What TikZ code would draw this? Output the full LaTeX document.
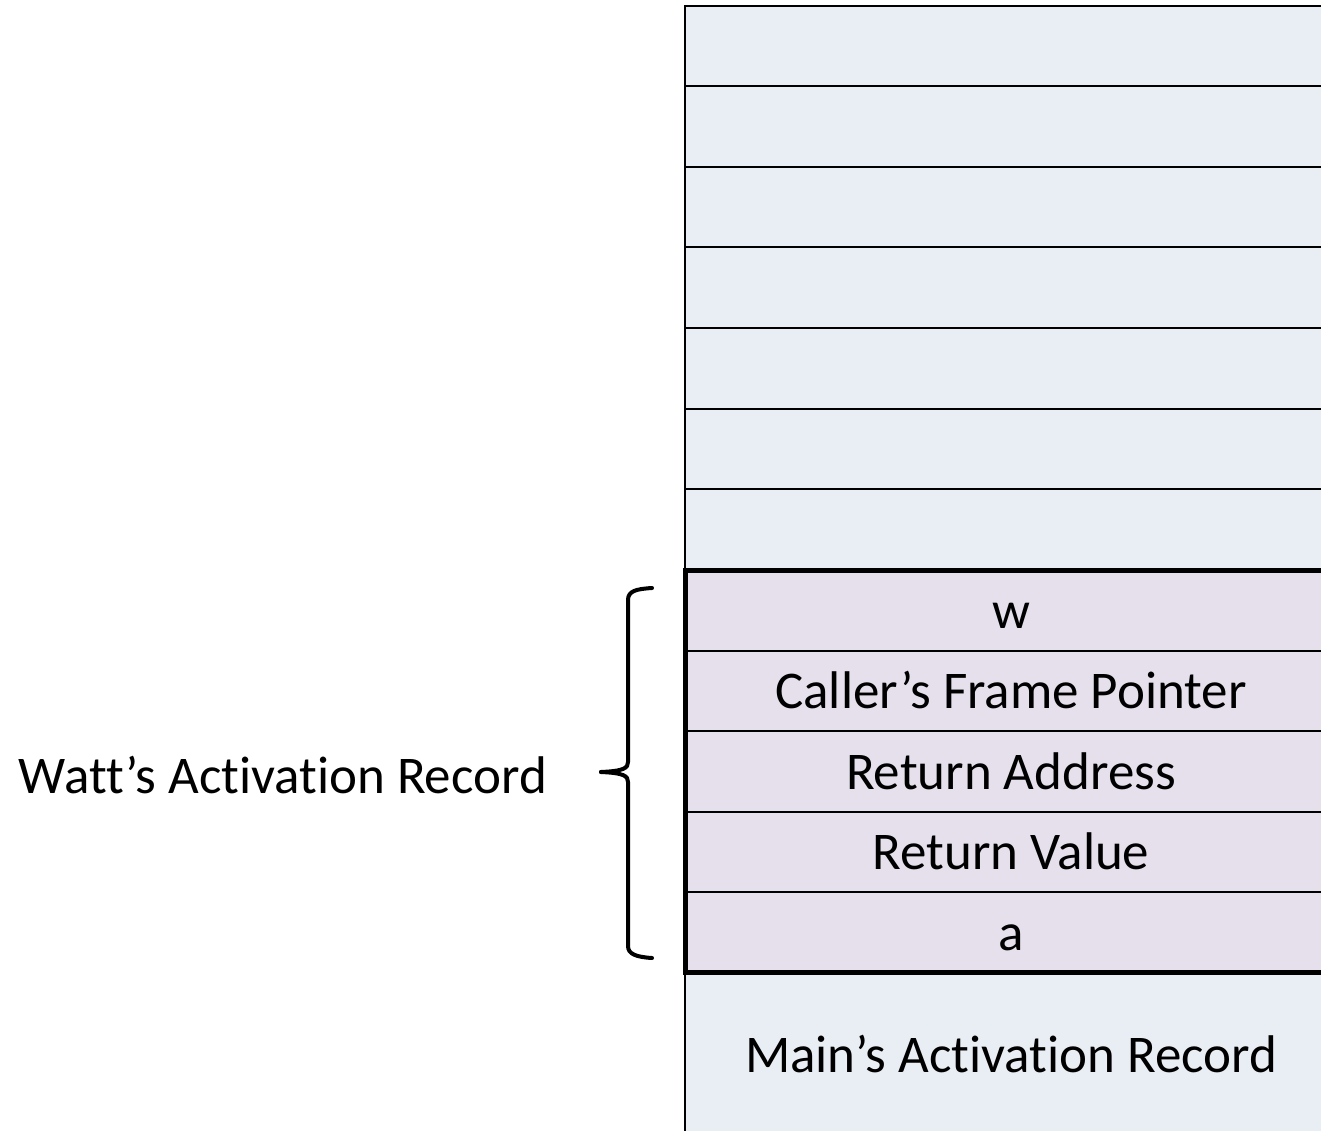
\documentclass[tikz,border=0pt]{standalone}
\usepackage{fontspec}
\setmainfont[Ligatures={NoCommon,NoDiscretionary}]{Carlito}
\definecolor{rowblue}{HTML}{E9EDF4}
\definecolor{rowpurple}{HTML}{E5E0EC}
\begin{document}
\begin{tikzpicture}[x=1pt,y=-1pt,
  cell/.style={draw=black, line width=2pt, minimum width=652pt, minimum height=80.5pt,
    inner sep=0pt, outer sep=0pt, anchor=north west, font=\fontsize{53}{58}\selectfont,
    text height=40pt, text depth=4pt},
  bluecell/.style={cell, fill=rowblue},
  purplecell/.style={cell, fill=rowpurple},
  thickframe/.style={draw=black, line width=5pt},
  bracestyle/.style={draw=black, line width=4pt, line cap=round, line join=round},
  label/.style={font=\fontsize{53}{58}\selectfont, inner sep=0pt}]
\useasboundingbox (0,0) rectangle (1321,1131);
% empty rows
\node[bluecell] (e1) at (685,6) {};
\node[bluecell] (e2) at (685,86.5) {};
\node[bluecell] (e3) at (685,167) {};
\node[bluecell] (e4) at (685,247.5) {};
\node[bluecell] (e5) at (685,328) {};
\node[bluecell] (e6) at (685,408.5) {};
\node[bluecell] (e7) at (685,489) {};
% Watt's record
\node[purplecell] (w) at (685,570) {w};
\node[purplecell] (cfp) at (685,650.5) {Caller’s Frame Pointer};
\node[purplecell] (ra) at (685,731) {Return Address};
\node[purplecell] (rv) at (685,811.5) {Return Value};
\node[purplecell] (a) at (685,892) {a};
% Main's record
\node[bluecell, minimum height=164pt] (main) at (685,972.5) {Main’s Activation Record};
\draw[thickframe] (w.north east) -- (w.north west) -- (a.south west) -- (a.south east);
% brace
\draw[bracestyle] (652,588) .. controls (636,589) and (628,591) .. (628,600)
  -- (628,762) .. controls (628,768) and (624,771) .. (601,772);
\draw[bracestyle] (601,772) .. controls (624,773) and (628,776) .. (628,782)
  -- (628,946) .. controls (628,954) and (636,957) .. (652,958);
\coordinate (tip) at (601,772);
\node[label, anchor=east] (watt) at (547,775) {Watt’s Activation Record};
\end{tikzpicture}
\end{document}
